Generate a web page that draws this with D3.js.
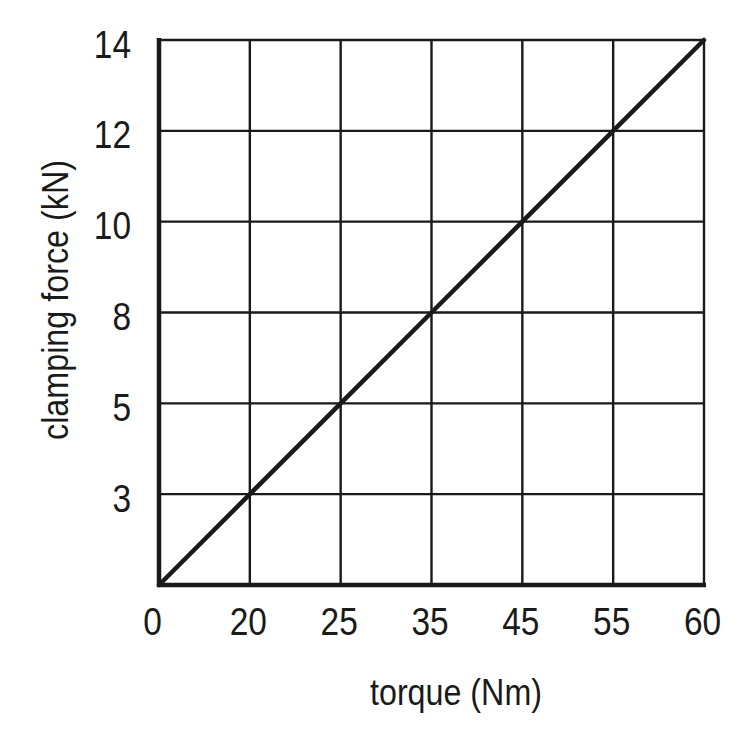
<!DOCTYPE html>
<html><head><meta charset="utf-8">
<script src="https://cdn.jsdelivr.net/npm/d3@7"></script>
<style>body{margin:0;background:#fff}svg{display:block}</style>
</head><body>
<svg id="c" width="750" height="742"></svg>
<script>
const xCats = ["0","20","25","35","45","55","60"];
const yCats = ["0","3","5","8","10","12","14"];
const xLabels = ["0","20","25","35","45","55","60"];
const yLabels = ["","3","5","8","10","12","14"];
const lineX = ["0","20","25","35","45","55","60"];
const lineY = ["0","3","5","8","10","12","14"];
const xTitle = "torque (Nm)";
const yTitle = "clamping force (kN)";

const svg = d3.select("#c");
const L = 159, R = 704, T = 40, B = 585;
const x = d3.scalePoint().domain(xCats).range([L, R]);
const y = d3.scalePoint().domain(yCats).range([B, T]);
const FONT = "'Liberation Sans', Arial, sans-serif";
const ink = "#1a1a1a";

// grid
svg.append("g").selectAll("line").data(xCats.slice(1)).join("line")
  .attr("x1", d => x(d)).attr("x2", d => x(d)).attr("y1", T).attr("y2", B)
  .attr("stroke", ink).attr("stroke-width", 2.4);
svg.append("g").selectAll("line").data(yCats.slice(1)).join("line")
  .attr("x1", L).attr("x2", R + 1).attr("y1", d => y(d)).attr("y2", d => y(d))
  .attr("stroke", ink).attr("stroke-width", 2.4);

// axes lines
svg.append("line").attr("x1", L).attr("x2", L).attr("y1", T - 2).attr("y2", B + 2)
  .attr("stroke", ink).attr("stroke-width", 4.5);
svg.append("line").attr("x1", L - 2).attr("x2", R + 2).attr("y1", B).attr("y2", B)
  .attr("stroke", ink).attr("stroke-width", 4.5);

// axes via d3 (labels only)
const xAxis = svg.append("g").attr("transform", `translate(0,${B})`)
  .call(d3.axisBottom(x).tickSize(0).tickFormat((d, i) => xLabels[i]));
xAxis.select(".domain").remove();
xAxis.selectAll("text").attr("y", 0).attr("dy", 0)
  .attr("transform", (d, i) => `translate(${i === 0 ? -7 : -2},50) scale(0.88,1)`)
  .attr("font-family", FONT).attr("font-size", 38).attr("fill", ink);

const yAxis = svg.append("g").attr("transform", `translate(131,0)`)
  .call(d3.axisLeft(y).tickSize(0).tickFormat((d, i) => yLabels[i]));
yAxis.select(".domain").remove();
yAxis.selectAll("text").attr("x", 0).attr("dy", 0)
  .attr("transform", "translate(0,17) scale(0.88,1)")
  .attr("text-anchor", "end")
  .attr("font-family", FONT).attr("font-size", 38).attr("fill", ink);

// line
const pts = lineX.map((d, i) => [x(d), y(lineY[i])]);
svg.append("path").attr("d", d3.line()(pts))
  .attr("fill", "none").attr("stroke", ink).attr("stroke-width", 4.5)
  .attr("stroke-linecap", "round").attr("stroke-linejoin", "round");

// titles
svg.append("text").attr("x", 456).attr("y", 705).attr("text-anchor", "middle")
  .attr("font-family", FONT).attr("font-size", 37).attr("fill", ink)
  .attr("textLength", 172).attr("lengthAdjust", "spacingAndGlyphs")
  .text(xTitle);
svg.append("text").attr("transform", "translate(68,300) rotate(-90)")
  .attr("text-anchor", "middle")
  .attr("font-family", FONT).attr("font-size", 37).attr("fill", ink)
  .attr("textLength", 280).attr("lengthAdjust", "spacingAndGlyphs")
  .text(yTitle);
</script>
</body></html>
